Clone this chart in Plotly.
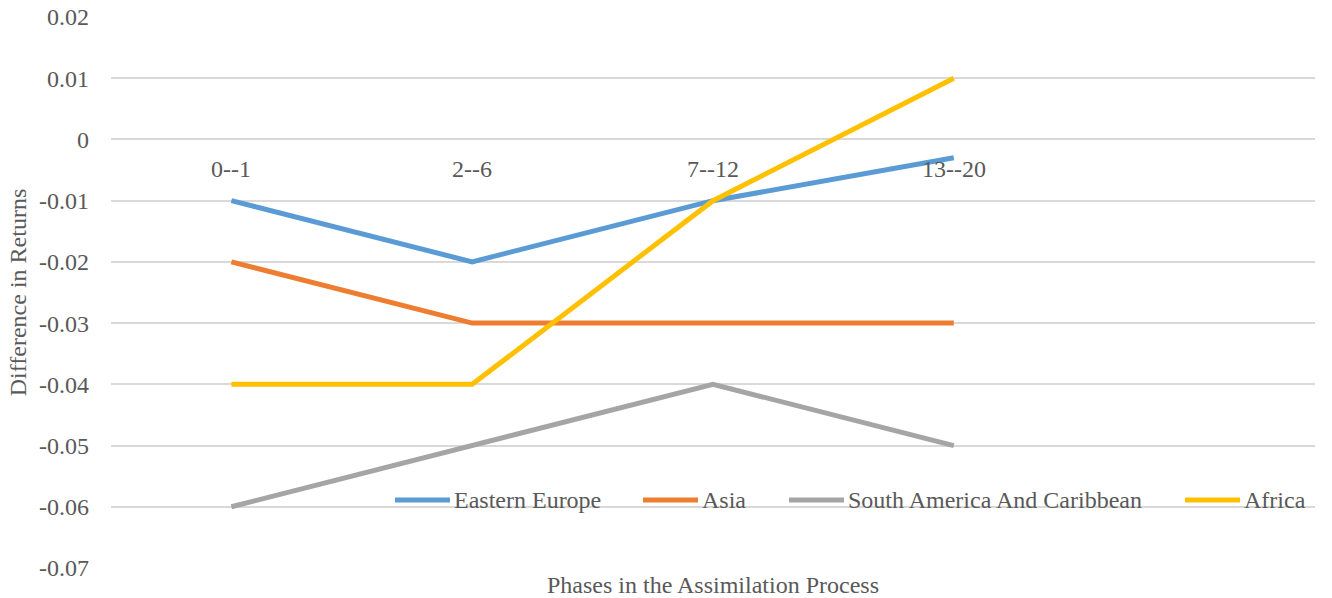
import plotly.graph_objects as go

categories = ["0--1", "2--6", "7--12", "13--20"]
n_slots = 5  # the category axis has one empty trailing slot

series_names = ["Eastern Europe", "Asia", "South America And Caribbean", "Africa"]
eastern_europe = [-0.01, -0.02, -0.01, -0.003]
asia = [-0.02, -0.03, -0.03, -0.03]
south_america = [-0.06, -0.05, -0.04, -0.05]
africa = [-0.04, -0.04, -0.01, 0.01]
series_values = [eastern_europe, asia, south_america, africa]
colors = ["#5B9BD5", "#ED7D31", "#A5A5A5", "#FFC000"]

y_tickvals = [0.02, 0.01, 0, -0.01, -0.02, -0.03, -0.04, -0.05, -0.06, -0.07]
y_ticktext = ["0.02", "0.01", "0", "-0.01", "-0.02", "-0.03", "-0.04", "-0.05", "-0.06", "-0.07"]
y_min, y_max = -0.07, 0.02

FONT = "Liberation Serif"
TXT = "#595959"
FS = 24
W, H = 1332, 598
ML, MR, MT, MB = 111, 17, 17, 30
PW, PH = W - ML - MR, H - MT - MB

# legend layout (window-pixel positions of each entry's line start)
legend_line_x_px = [395, 643, 789, 1185]
legend_line_len_px = 55
legend_y_px = 500

fig = go.Figure()
xs = list(range(len(categories)))
for name, vals, col in zip(series_names, series_values, colors):
    fig.add_trace(go.Scatter(
        x=xs, y=vals, name=name, mode="lines",
        line=dict(color=col, width=5), showlegend=False,
    ))

# Category labels sit just under the zero line (axis crosses at 0)
for i, c in enumerate(categories):
    fig.add_annotation(x=i, y=0, xref="x", yref="y", text=c, showarrow=False,
                       yanchor="top", yshift=-15,
                       font=dict(family=FONT, size=FS, color=TXT))

def px_to_paper_x(px):
    return (px - ML) / PW

def px_to_paper_y(py):
    return (H - MB - py) / PH

ly = px_to_paper_y(legend_y_px)
for name, col, x0 in zip(series_names, colors, legend_line_x_px):
    fig.add_shape(type="line", xref="paper", yref="paper",
                  x0=px_to_paper_x(x0), x1=px_to_paper_x(x0 + legend_line_len_px),
                  y0=ly, y1=ly, line=dict(color=col, width=5))
    fig.add_annotation(xref="paper", yref="paper", x=px_to_paper_x(x0 + legend_line_len_px + 2),
                       y=ly, text=name, showarrow=False, xanchor="left", yanchor="middle",
                       font=dict(family=FONT, size=FS, color=TXT))

eps = 1e-9
fig.update_layout(
    width=W, height=H,
    margin=dict(l=ML, r=MR, t=MT, b=MB),
    paper_bgcolor="white", plot_bgcolor="white",
    font=dict(family=FONT, size=FS, color=TXT),
    showlegend=False,
    xaxis=dict(range=[-0.5, n_slots - 0.5], showticklabels=False, showgrid=False,
               zeroline=False, showline=False, ticks="", automargin=False,
               title=dict(text="Phases in the Assimilation Process", standoff=8,
                          font=dict(family=FONT, size=FS, color=TXT))),
    yaxis=dict(range=[y_min - eps, y_max + eps], tickvals=y_tickvals, ticktext=y_ticktext,
               showgrid=True, gridcolor="#D9D9D9", gridwidth=1.5, zeroline=False,
               showline=False, ticks="", ticklabelstandoff=21, automargin=False,
               ticklabeloverflow="allow",
               tickfont=dict(family=FONT, size=FS, color=TXT),
               title=dict(text="Difference in Returns", standoff=5,
                          font=dict(family=FONT, size=FS, color=TXT))),
)

fig.write_html("out.html", config={"displayModeBar": False},
               post_script="document.body.style.margin='0';document.body.style.overflow='hidden';")
